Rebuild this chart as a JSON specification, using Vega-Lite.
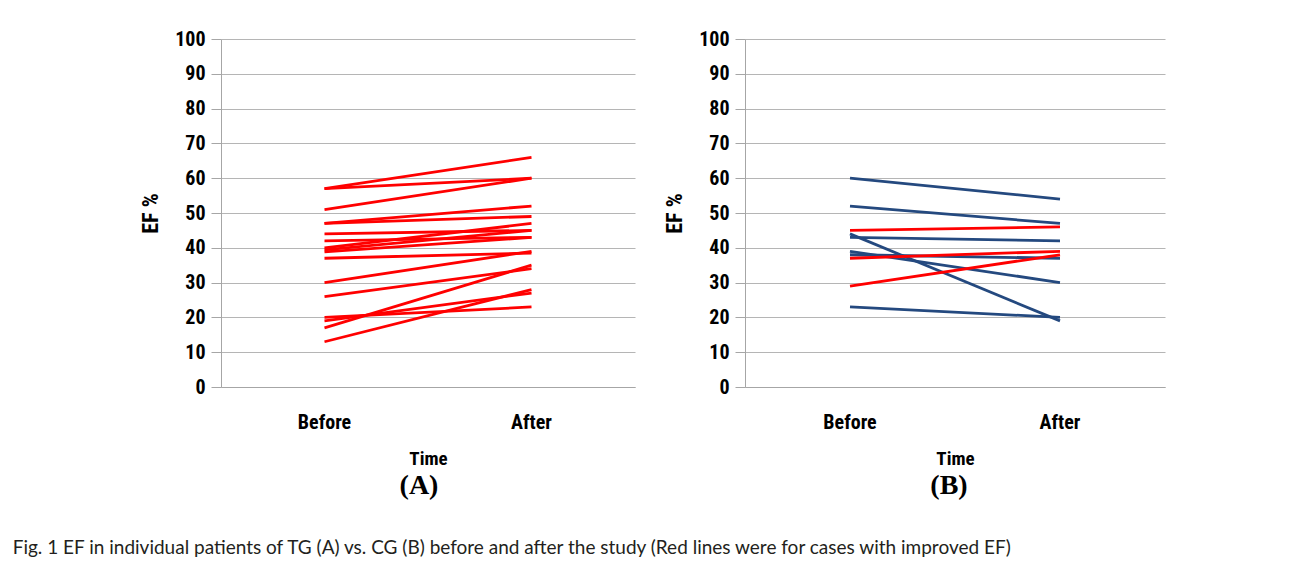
{
  "$schema": "https://vega.github.io/schema/vega-lite/v6.json",
  "padding": {"left": 12, "top": 29, "right": 5, "bottom": 5},
  "datasets": {
    "tg": [
      {"patient": "A01", "time": "Before", "ef": 57, "improved": "yes"},
      {"patient": "A01", "time": "After", "ef": 66, "improved": "yes"},
      {"patient": "A02", "time": "Before", "ef": 57, "improved": "yes"},
      {"patient": "A02", "time": "After", "ef": 60, "improved": "yes"},
      {"patient": "A03", "time": "Before", "ef": 51, "improved": "yes"},
      {"patient": "A03", "time": "After", "ef": 60, "improved": "yes"},
      {"patient": "A04", "time": "Before", "ef": 47, "improved": "yes"},
      {"patient": "A04", "time": "After", "ef": 52, "improved": "yes"},
      {"patient": "A05", "time": "Before", "ef": 47, "improved": "yes"},
      {"patient": "A05", "time": "After", "ef": 49, "improved": "yes"},
      {"patient": "A06", "time": "Before", "ef": 44, "improved": "yes"},
      {"patient": "A06", "time": "After", "ef": 45, "improved": "yes"},
      {"patient": "A07", "time": "Before", "ef": 42, "improved": "yes"},
      {"patient": "A07", "time": "After", "ef": 43, "improved": "yes"},
      {"patient": "A08", "time": "Before", "ef": 40, "improved": "yes"},
      {"patient": "A08", "time": "After", "ef": 47, "improved": "yes"},
      {"patient": "A09", "time": "Before", "ef": 39.4, "improved": "yes"},
      {"patient": "A09", "time": "After", "ef": 45, "improved": "yes"},
      {"patient": "A10", "time": "Before", "ef": 38.8, "improved": "yes"},
      {"patient": "A10", "time": "After", "ef": 43, "improved": "yes"},
      {"patient": "A11", "time": "Before", "ef": 37, "improved": "yes"},
      {"patient": "A11", "time": "After", "ef": 38.5, "improved": "yes"},
      {"patient": "A12", "time": "Before", "ef": 30, "improved": "yes"},
      {"patient": "A12", "time": "After", "ef": 39, "improved": "yes"},
      {"patient": "A13", "time": "Before", "ef": 26, "improved": "yes"},
      {"patient": "A13", "time": "After", "ef": 34, "improved": "yes"},
      {"patient": "A14", "time": "Before", "ef": 20, "improved": "yes"},
      {"patient": "A14", "time": "After", "ef": 23, "improved": "yes"},
      {"patient": "A15", "time": "Before", "ef": 19, "improved": "yes"},
      {"patient": "A15", "time": "After", "ef": 27, "improved": "yes"},
      {"patient": "A16", "time": "Before", "ef": 17, "improved": "yes"},
      {"patient": "A16", "time": "After", "ef": 35, "improved": "yes"},
      {"patient": "A17", "time": "Before", "ef": 13, "improved": "yes"},
      {"patient": "A17", "time": "After", "ef": 28, "improved": "yes"}
    ],
    "cg": [
      {"patient": "B01", "time": "Before", "ef": 60, "improved": "no"},
      {"patient": "B01", "time": "After", "ef": 54, "improved": "no"},
      {"patient": "B02", "time": "Before", "ef": 52, "improved": "no"},
      {"patient": "B02", "time": "After", "ef": 47, "improved": "no"},
      {"patient": "B03", "time": "Before", "ef": 44, "improved": "no"},
      {"patient": "B03", "time": "After", "ef": 19, "improved": "no"},
      {"patient": "B04", "time": "Before", "ef": 43, "improved": "no"},
      {"patient": "B04", "time": "After", "ef": 42, "improved": "no"},
      {"patient": "B05", "time": "Before", "ef": 39, "improved": "no"},
      {"patient": "B05", "time": "After", "ef": 30, "improved": "no"},
      {"patient": "B06", "time": "Before", "ef": 38, "improved": "no"},
      {"patient": "B06", "time": "After", "ef": 37, "improved": "no"},
      {"patient": "B07", "time": "Before", "ef": 23, "improved": "no"},
      {"patient": "B07", "time": "After", "ef": 20, "improved": "no"},
      {"patient": "B08", "time": "Before", "ef": 45, "improved": "yes"},
      {"patient": "B08", "time": "After", "ef": 46, "improved": "yes"},
      {"patient": "B09", "time": "Before", "ef": 37, "improved": "yes"},
      {"patient": "B09", "time": "After", "ef": 39, "improved": "yes"},
      {"patient": "B10", "time": "Before", "ef": 29, "improved": "yes"},
      {"patient": "B10", "time": "After", "ef": 38, "improved": "yes"}
    ]
  },
  "title": {
    "text": "Fig. 1  EF in individual patients of TG (A) vs. CG (B) before and after the study (Red lines were for cases with improved EF)",
    "orient": "bottom",
    "anchor": "start",
    "dx": -127,
    "offset": 39,
    "font": "Lato",
    "fontSize": 19,
    "fontWeight": "normal",
    "color": "#231f20"
  },
  "spacing": 28,
  "hconcat": [
    {
      "width": 414,
      "height": 348,
      "data": {"name": "tg"},
      "title": {"text": "(A)", "orient": "bottom", "frame": "group", "dx": -9, "offset": 4, "font": "Liberation Serif", "fontSize": 28, "fontWeight": "bold", "color": "#000"},
      "mark": {"type": "line", "strokeWidth": 2.8},
      "encoding": {
        "x": {"field": "time", "type": "nominal", "sort": ["Before", "After"], "scale": {"type": "band", "paddingInner": 0, "paddingOuter": 0}, "axis": {"title": "Time", "labelAngle": 0, "ticks": false, "labelPadding": 25, "titlePadding": 17}},
        "y": {"field": "ef", "type": "quantitative", "scale": {"domain": [0, 100], "nice": false}, "axis": {"title": "EF %", "titleFontSize": 22, "values": [0, 10, 20, 30, 40, 50, 60, 70, 80, 90, 100], "tickSize": 10, "labelPadding": 6, "titlePadding": 12}},
        "detail": {"field": "patient"},
        "color": {"field": "improved", "type": "nominal", "scale": {"domain": ["yes", "no"], "range": ["#ff0000", "#24497f"]}, "legend": null}
      }
    },
    {
      "width": 420,
      "height": 348,
      "data": {"name": "cg"},
      "title": {"text": "(B)", "orient": "bottom", "frame": "group", "dx": -6, "offset": 4, "font": "Liberation Serif", "fontSize": 28, "fontWeight": "bold", "color": "#000"},
      "mark": {"type": "line", "strokeWidth": 2.8},
      "encoding": {
        "x": {"field": "time", "type": "nominal", "sort": ["Before", "After"], "scale": {"type": "band", "paddingInner": 0, "paddingOuter": 0}, "axis": {"title": "Time", "labelAngle": 0, "ticks": false, "labelPadding": 25, "titlePadding": 17}},
        "y": {"field": "ef", "type": "quantitative", "scale": {"domain": [0, 100], "nice": false}, "axis": {"title": "EF %", "titleFontSize": 22, "values": [0, 10, 20, 30, 40, 50, 60, 70, 80, 90, 100], "tickSize": 10, "labelPadding": 6, "titlePadding": 12}},
        "detail": {"field": "patient"},
        "color": {"field": "improved", "type": "nominal", "scale": {"domain": ["yes", "no"], "range": ["#ff0000", "#24497f"]}, "legend": null}
      }
    }
  ],
  "config": {
    "view": {"stroke": null},
    "axis": {
      "labelFont": "Roboto Condensed, DejaVu Sans Condensed, Roboto",
      "labelFontWeight": "bold",
      "labelFontSize": 20,
      "labelColor": "#000",
      "titleFont": "Roboto Condensed, DejaVu Sans Condensed, Roboto",
      "titleFontWeight": "bold",
      "titleFontSize": 19,
      "titleColor": "#000",
      "domainColor": "#a6a6a6",
      "tickColor": "#a6a6a6",
      "gridColor": "#b5b5b5",
      "grid": true
    },
    "axisX": {"grid": false}
  }
}
